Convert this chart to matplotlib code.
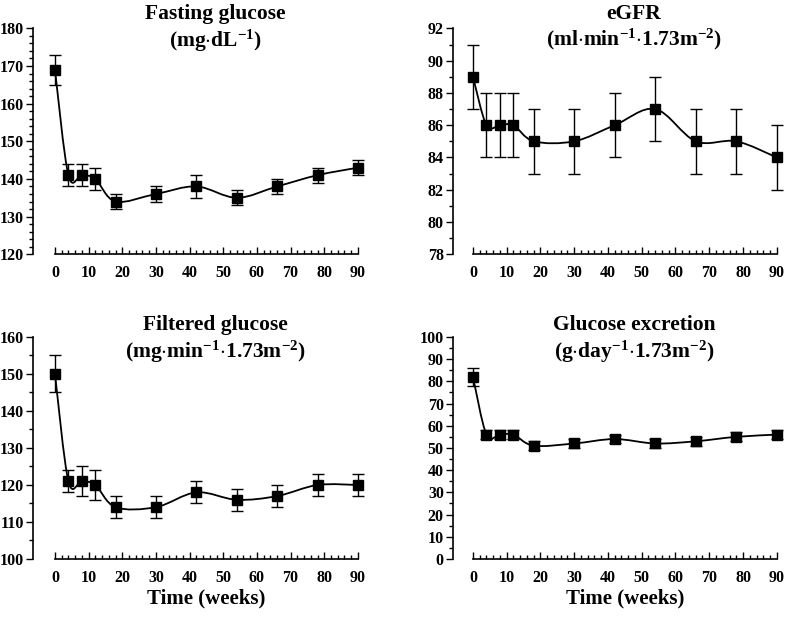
import numpy as np
import matplotlib
matplotlib.use("Agg")
import matplotlib.pyplot as plt
from matplotlib.path import Path
from matplotlib.patches import PathPatch
from matplotlib.ticker import MultipleLocator

plt.rcParams['font.family'] = ['Liberation Serif', 'DejaVu Serif']
plt.rcParams['font.weight'] = 'bold'
plt.rcParams['mathtext.fontset'] = 'custom'
plt.rcParams['mathtext.rm'] = 'Liberation Serif:bold'
plt.rcParams['mathtext.it'] = 'Liberation Serif:bold'
plt.rcParams['mathtext.bf'] = 'Liberation Serif:bold'
plt.rcParams['mathtext.default'] = 'rm'

# time points (weeks)
weeks = [0, 4, 8, 12, 18, 30, 42, 54, 66, 78, 90]

fasting = [169, 141, 141, 140, 134, 136, 138, 135, 138, 141, 143]
fasting_err = [4, 3, 3, 3, 2, 2, 3, 2, 2, 2, 2]

egfr = [89, 86, 86, 86, 85, 85, 86, 87, 85, 85, 84]
egfr_err = [2, 2, 2, 2, 2, 2, 2, 2, 2, 2, 2]

filtered = [150, 121, 121, 120, 114, 114, 118, 116, 117, 120, 120]
filtered_err = [5, 3, 4, 4, 3, 3, 3, 3, 3, 3, 3]

excretion = [82, 56, 56, 56, 51, 52, 54, 52, 53, 55, 56]
excretion_err = [4, 2, 2, 2, 2, 2, 2, 2, 2, 2, 2]

titles = ['Fasting glucose\n(mg$\\cdot$dL$^{-1}$)',
          'eGFR\n(ml$\\cdot$min$^{-1}$$\\cdot$1.73m$^{-2}$)',
          'Filtered glucose\n(mg$\\cdot$min$^{-1}$$\\cdot$1.73m$^{-2}$)',
          'Glucose excretion\n(g$\\cdot$day$^{-1}$$\\cdot$1.73m$^{-2}$)']


def smooth_path(x, y):
    # catmull-rom style bezier segments through the points (like a "smoothed line")
    p = np.column_stack([x, y]).astype(float)
    pts = np.vstack([p[0], p, p[-1]])
    verts = [p[0]]
    codes = [Path.MOVETO]
    for i in range(1, len(pts) - 2):
        c1 = pts[i] + (pts[i + 1] - pts[i - 1]) / 6
        c2 = pts[i + 1] - (pts[i + 2] - pts[i]) / 6
        verts += [c1, c2, pts[i + 1]]
        codes += [Path.CURVE4] * 3
    return Path(verts, codes)


def panel(rect, y, err, title, ylim, major, minor, offset, title_y, xlabel=False):
    ax = fig.add_axes(rect)
    ax.add_patch(PathPatch(smooth_path(weeks, y), fill=False, lw=1.3, color='black', clip_on=False))
    ax.errorbar(weeks, y, yerr=err, fmt='s', color='black', ms=6.5, elinewidth=1,
                capsize=4.5, capthick=1, clip_on=False)
    ax.set_xlim(0, 90)
    ax.set_ylim(*ylim)
    ax.spines['top'].set_visible(False)
    ax.spines['right'].set_visible(False)
    ax.spines['left'].set_position(('outward', offset))
    ax.spines['bottom'].set_bounds(0, 90)
    ax.spines['bottom'].set_linewidth(1.2)
    ax.spines['left'].set_linewidth(1.2)
    ax.xaxis.set_major_locator(MultipleLocator(10))
    ax.xaxis.set_minor_locator(MultipleLocator(2))
    ax.yaxis.set_major_locator(MultipleLocator(major))
    ax.yaxis.set_minor_locator(MultipleLocator(minor))
    ax.tick_params(axis='x', which='major', direction='in', length=5, width=1, pad=8, labelsize=11.5)
    ax.tick_params(axis='x', which='minor', direction='in', length=3, width=1)
    ax.tick_params(axis='y', which='major', direction='out', length=5, width=1, pad=1.5, labelsize=11.5)
    ax.tick_params(axis='y', which='minor', direction='out', length=3, width=1)
    for lab in ax.get_xticklabels() + ax.get_yticklabels():
        lab.set_fontweight('bold')
    ax.text(0.53, title_y, title, transform=ax.transAxes, ha='center', va='top',
            fontsize=15.5, fontweight='bold', linespacing=1.2)
    if xlabel:
        ax.set_xlabel('Time (weeks)', fontsize=15, fontweight='bold', labelpad=2)
    return ax


fig = plt.figure(figsize=(7.85, 6.17), dpi=100)

panel([0.070, 0.588, 0.386, 0.366], fasting, fasting_err, titles[0], (120, 180), 10, 2, 16, 1.11)
panel([0.6025, 0.588, 0.387, 0.366], egfr, egfr_err, titles[1], (78, 92), 2, 1, 14.5, 1.11)
panel([0.070, 0.094, 0.386, 0.360], filtered, filtered_err, titles[2], (100, 160), 10, 5, 16, 1.10, True)
panel([0.6025, 0.094, 0.387, 0.360], excretion, excretion_err, titles[3], (0, 100), 10, 5, 14.5, 1.10, True)

fig.savefig('out.png', dpi=100)
